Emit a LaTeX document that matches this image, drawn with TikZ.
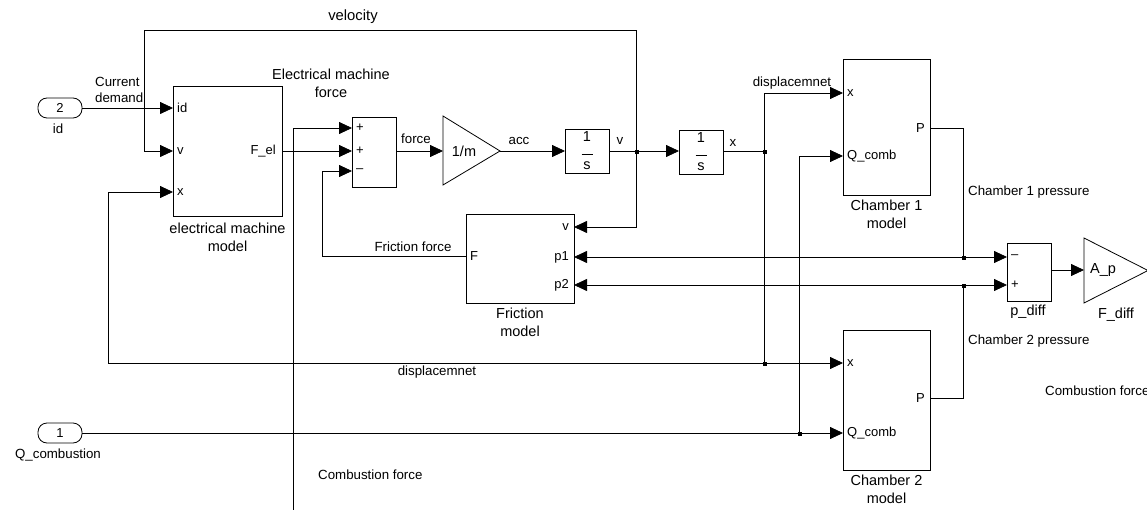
\documentclass[tikz,border=0pt]{standalone}
\usepackage{fontspec}
\setmainfont{Liberation Sans}
\usetikzlibrary{arrows.meta}

\begin{document}
\begin{tikzpicture}[x=1pt, y=-1pt,
  blk/.style={draw, line width=0.8pt, inner sep=0pt},
  inport/.style={draw, line width=0.8pt, rounded corners=9pt, minimum width=44pt, minimum height=20pt, inner sep=0pt, font=\fontsize{13}{15}\selectfont},
  sig/.style={line width=0.8pt, -{Triangle[length=13pt,width=12pt]}},
  wire/.style={line width=0.8pt},
  jdot/.style={fill, minimum size=4pt, inner sep=0pt},
  txt/.style={inner sep=0pt, font=\fontsize{13.3}{16}\selectfont},
  bname/.style={inner sep=0pt, align=center, font=\fontsize{14.5}{18}\selectfont},
  plbl/.style={inner sep=0pt, font=\fontsize{13}{15}\selectfont}
]
\useasboundingbox (0,0) rectangle (1147,510);

% inports
\node[inport] (in2) at (60,108) {2};
\node[txt] (in2-l) at (58,129) {id};
\node[inport] (in1) at (60,433) {1};
\node[txt] (in1-l) at (58,455) {Q\_combustion};

% blocks
\node[blk, minimum width=109pt, minimum height=130pt] (em) at (227.5,151) {};
\node[blk, minimum width=44pt, minimum height=70pt] (sumF) at (374,152) {};
\draw[wire] (443,116) -- (500,151) -- (443,185) -- cycle;
\node[bname] (gm) at (464,151) {1/m};
\node[blk, minimum width=44pt, minimum height=44pt, bname] (int1) at (587,151) {1\\[-5pt]\rule{11pt}{0.6pt}\\[-3pt]s};
\node[blk, minimum width=44pt, minimum height=44pt, bname] (int2) at (701,152) {1\\[-5pt]\rule{11pt}{0.6pt}\\[-3pt]s};
\node[blk, minimum width=108pt, minimum height=89pt] (fr) at (520,258.5) {};
\node[blk, minimum width=87pt, minimum height=136pt] (ch1) at (886.5,127) {};
\node[blk, minimum width=87pt, minimum height=140pt] (ch2) at (886.5,400) {};
\node[blk, minimum width=44pt, minimum height=58pt] (pd) at (1029,272) {};
\draw[wire] (1084,238) -- (1148,270.5) -- (1084,303) -- cycle;
\node[bname] (Ap) at (1103,270) {A\_p};

% block names
\node[bname] (em-n) at (227.5,237) {electrical machine\\model};
\node[bname] (fr-n) at (520,322) {Friction\\model};
\node[bname] (ch1-n) at (886.5,214) {Chamber 1\\model};
\node[bname] (ch2-n) at (886.5,489) {Chamber 2\\model};
\node[bname] (pd-n) at (1028,312) {p\_diff};
\node[bname] (Ap-n) at (1116,315) {F\_diff};

% ports
\coordinate (em-id) at (173,108);
\coordinate (em-v) at (173,151);
\coordinate (em-x) at (173,192);
\coordinate (em-F) at (282,151);
\coordinate (sum-p1) at (352,128);
\coordinate (sum-p2) at (352,151);
\coordinate (sum-m) at (352,171);
\coordinate (sum-out) at (396,151);
\coordinate (gm-in) at (443,151);
\coordinate (gm-out) at (500,151);
\coordinate (int1-in) at (565,151);
\coordinate (int1-out) at (609,151);
\coordinate (int2-in) at (679,151);
\coordinate (int2-out) at (723,151);
\coordinate (fr-v) at (574,227);
\coordinate (fr-p1) at (574,257);
\coordinate (fr-p2) at (574,285);
\coordinate (fr-F) at (466,256);
\coordinate (ch1-x) at (843,93);
\coordinate (ch1-Q) at (843,156);
\coordinate (ch1-P) at (930,128);
\coordinate (ch2-x) at (843,363);
\coordinate (ch2-Q) at (843,433);
\coordinate (ch2-P) at (930,398);
\coordinate (pd-m) at (1007,257);
\coordinate (pd-p) at (1007,285);
\coordinate (pd-out) at (1051,270);
\coordinate (Ap-in) at (1084,270);

% port labels
\node[plbl, anchor=west] (em-id-l) at (177,108) {id};
\node[plbl, anchor=west] (em-v-l) at (177,151) {v};
\node[plbl, anchor=west] (em-x-l) at (177,192) {x};
\node[plbl, anchor=east] (em-F-l) at (276,151) {F\_el};
\node[plbl, anchor=west] (sum-p1-l) at (356,128) {+};
\node[plbl, anchor=west] (sum-p2-l) at (356,151) {+};
\node[plbl, anchor=west] (sum-m-l) at (356,171) {--};
\node[plbl, anchor=east] (fr-v-l) at (569,227) {v};
\node[plbl, anchor=east] (fr-p1-l) at (569,257) {p1};
\node[plbl, anchor=east] (fr-p2-l) at (569,285) {p2};
\node[plbl, anchor=west] (fr-F-l) at (470,256) {F};
\node[plbl, anchor=west] (ch1-x-l) at (847,93) {x};
\node[plbl, anchor=west] (ch1-Q-l) at (847,156) {Q\_comb};
\node[plbl, anchor=east] (ch1-P-l) at (925,128) {P};
\node[plbl, anchor=west] (ch2-x-l) at (847,363) {x};
\node[plbl, anchor=west] (ch2-Q-l) at (847,433) {Q\_comb};
\node[plbl, anchor=east] (ch2-P-l) at (925,398) {P};
\node[plbl, anchor=west] (pd-m-l) at (1011,257) {--};
\node[plbl, anchor=west] (pd-p-l) at (1011,285) {+};

% junctions and corners
\coordinate (jv) at (636,151);
\coordinate (jx) at (764,151);
\coordinate (jd) at (764,363);
\coordinate (jq) at (799,433);
\coordinate (jp1) at (963,257);
\coordinate (jp2) at (963,285);
\coordinate (vtop) at (144,30);
\coordinate (ffc) at (322,171);
\coordinate (dfc) at (108,192);
\coordinate (efb) at (293,510);
\node[jdot] (jv-d) at (637,152) {};
\node[jdot] (jx-d) at (765,152) {};
\node[jdot] (jd-d) at (765,364) {};
\node[jdot] (jq-d) at (800,434) {};
\node[jdot] (jp1-d) at (964,258) {};
\node[jdot] (jp2-d) at (964,286) {};

% signals
\draw[sig] (in2.east) -- (em-id);
\draw[sig] (jv) |- (vtop) |- (em-v);
\draw[sig] (jv) |- (fr-v);
\draw[sig] (em-F) -- (sum-p2);
\draw[sig] (efb) |- (sum-p1);
\draw[sig] (fr-F) -| (ffc) -- (sum-m);
\draw[sig] (sum-out) -- (gm-in);
\draw[sig] (gm-out) -- (int1-in);
\draw[sig] (int1-out) -- (int2-in);
\draw[wire] (int2-out) -- (jx);
\draw[sig] (jx) |- (ch1-x);
\draw[wire] (jx) -- (jd);
\draw[sig] (jd) -- (ch2-x);
\draw[sig] (jd) -| (dfc) -- (em-x);
\draw[sig] (in1.east) -- (ch2-Q);
\draw[sig] (jq) |- (ch1-Q);
\draw[wire] (ch1-P) -| (jp1);
\draw[sig] (jp1) -- (fr-p1);
\draw[sig] (jp1) -- (pd-m);
\draw[wire] (ch2-P) -| (jp2);
\draw[sig] (jp2) -- (fr-p2);
\draw[sig] (jp2) -- (pd-p);
\draw[sig] (pd-out) -- (Ap-in);

% signal labels
\node[txt, align=left, anchor=west] (cd-l) at (95,89.5) {Current\\demand};
\node[txt, font=\fontsize{14.8}{17}\selectfont] (vel-l) at (353,17) {velocity};
\node[bname] (ef-l) at (331,83) {Electrical machine\\force};
\node[txt] (force-l) at (416,139) {force};
\node[txt] (acc-l) at (519,141) {acc};
\node[txt] (v-l) at (620,141) {v};
\node[txt] (x-l) at (733,143) {x};
\node[txt] (d1-l) at (792,83) {displacemnet};
\node[txt] (d2-l) at (437,372) {displacemnet};
\node[txt] (ff-l) at (413,247) {Friction force};
\node[txt, anchor=west] (p1-l) at (968,192) {Chamber 1 pressure};
\node[txt, anchor=west] (p2-l) at (968,341) {Chamber 2 pressure};
\node[txt, anchor=west] (cf1-l) at (318,475) {Combustion force};
\node[txt, anchor=west] (cf2-l) at (1045,391) {Combustion force};

\end{tikzpicture}
\end{document}
